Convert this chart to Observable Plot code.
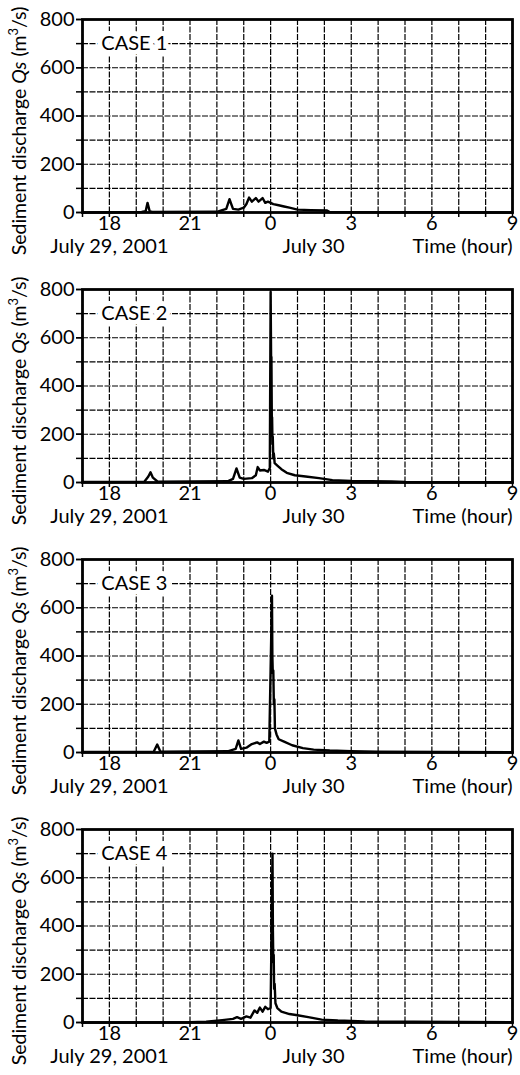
<!DOCTYPE html>
<html>
<head>
<meta charset="utf-8">
<script src="https://cdn.jsdelivr.net/npm/d3@7"></script>
<script src="https://cdn.jsdelivr.net/npm/@observablehq/plot@0.6"></script>
<style>
  html, body { margin: 0; padding: 0; background: #fff; }
  #chart svg { display: block; }
</style>
</head>
<body>
<div id="chart"></div>
<script>
// ---- data (hours since July 29 00:00; 24 = July 30, 0 h) ----
const hourGrid = d3.range(17, 34);
const labeledHours = [18, 21, 24, 27, 30, 33];
const qsLabeled = [0, 200, 400, 600, 800];
const qsGrid = d3.range(0, 801, 100);
const caseNames = ["CASE 1", "CASE 2", "CASE 3", "CASE 4"];
const dateLabels = ["July 29, 2001", "July 30"];
const dateHours = [18, 25.6];
const timeLabel = "Time (hour)";

const case1T = [17, 19.2, 19.35, 19.42, 19.5, 19.6, 22.0, 22.2, 22.35, 22.47, 22.6, 22.8, 23.0, 23.1, 23.2, 23.3, 23.45, 23.55, 23.7, 23.8, 23.9, 24.1, 24.3, 24.5, 24.7, 25.0, 25.5, 26.1, 26.2, 33];
const case1Q = [0, 2, 5, 40, 5, 2, 3, 10, 15, 55, 15, 12, 20, 35, 62, 45, 60, 45, 60, 40, 45, 35, 30, 25, 20, 12, 10, 8, 2, 0];

const case2T = [17, 19.3, 19.45, 19.53, 19.62, 19.8, 22.4, 22.6, 22.73, 22.85, 23.0, 23.3, 23.45, 23.52, 23.6, 23.75, 23.9, 23.97, 24.0, 24.02, 24.03, 24.045, 24.055, 24.07, 24.08, 24.1, 24.12, 24.15, 24.25, 24.4, 24.6, 24.9, 25.3, 25.8, 26.3, 27, 28.5, 29, 33];
const case2Q = [2, 3, 25, 42, 20, 3, 5, 15, 58, 20, 15, 18, 30, 64, 50, 52, 45, 60, 790, 480, 520, 250, 270, 160, 190, 100, 120, 80, 70, 55, 40, 30, 25, 18, 10, 6, 4, 2, 1];

const case3T = [17, 19.65, 19.78, 19.9, 22.4, 22.7, 22.8, 22.9, 23.1, 23.3, 23.5, 23.6, 23.75, 23.85, 23.95, 24.05, 24.065, 24.08, 24.1, 24.12, 24.14, 24.16, 24.22, 24.3, 24.5, 24.8, 25.2, 25.6, 26.2, 27, 28, 33];
const case3Q = [2, 3, 33, 3, 5, 15, 50, 15, 20, 35, 42, 35, 45, 40, 45, 650, 400, 330, 340, 200, 220, 100, 75, 55, 45, 30, 18, 12, 8, 5, 3, 1];

const case4T = [17, 21.0, 21.6, 22.2, 22.6, 22.75, 22.9, 23.1, 23.25, 23.4, 23.5, 23.6, 23.7, 23.8, 23.9, 24.0, 24.07, 24.085, 24.1, 24.115, 24.13, 24.15, 24.18, 24.25, 24.4, 24.7, 25.0, 25.4, 25.9, 26.5, 27.5, 33];
const case4Q = [0, 1, 3, 10, 15, 22, 15, 25, 20, 50, 40, 62, 45, 65, 55, 60, 700, 380, 250, 280, 140, 160, 80, 60, 45, 35, 30, 22, 12, 8, 4, 1];

const allT = [case1T, case2T, case3T, case4T];
const allQ = [case1Q, case2Q, case3Q, case4Q];

const FONT = "Lato, 'DejaVu Sans', sans-serif";
const gridStyle = {stroke: "#000", strokeOpacity: 1, strokeWidth: 1.2, strokeDasharray: "6,1.5"};

function panel(name, T, Q) {
  const data = T.map((t, i) => ({t, q: Q[i]}));
  const svg = Plot.plot({
    width: 520,
    height: 270,
    marginTop: 19,
    marginBottom: 58,
    marginLeft: 82,
    marginRight: 8,
    style: {fontFamily: FONT, fontSize: "20px", color: "#000", background: "#fff", overflow: "visible"},
    x: {domain: [17, 33], label: null},
    y: {domain: [0, 800], label: null},
    marks: [
      Plot.gridX(hourGrid, gridStyle),
      Plot.gridY(qsGrid, gridStyle),
      Plot.axisX(hourGrid, {tickSize: 5, tickFormat: () => "", label: null, strokeWidth: 1.5}),
      Plot.axisX(labeledHours, {tickSize: 0, tickPadding: 3, tickFormat: d => String(d % 24), fontSize: 20, label: null}),
      Plot.axisY(qsGrid, {tickSize: 6, tickFormat: () => "", label: null, strokeWidth: 1.5}),
      Plot.axisY(qsLabeled, {tickSize: 6, tickPadding: 2, fontSize: 20, label: null, strokeWidth: 1.5}),
      Plot.line(data, {x: "t", y: "q", stroke: "#000", strokeWidth: 2.4, strokeLinejoin: "round"}),
      Plot.frame({stroke: "#000", strokeWidth: 2.8}),
      Plot.text([name], {x: 17.7, y: 700, text: d => d, textAnchor: "start", fontSize: 20, fill: "#000",
        stroke: "#fff", strokeWidth: 10, paintOrder: "stroke"}),
      Plot.text(dateLabels, {x: (d, i) => dateHours[i], text: d => d, frameAnchor: "bottom", dy: 40, fontSize: 20, fill: "#000"}),
      Plot.text([timeLabel], {x: 33, text: d => d, frameAnchor: "bottom", dy: 40, textAnchor: "end", fontSize: 20, fill: "#000"})
    ]
  });
  const lab = d3.select(svg).append("text")
    .attr("transform", "translate(26,131) rotate(-90)")
    .attr("text-anchor", "middle")
    .attr("font-family", FONT)
    .attr("font-size", 19.5)
    .attr("fill", "#000");
  lab.append("tspan").text("Sediment discharge ");
  lab.append("tspan").attr("font-style", "italic").text("Qs");
  lab.append("tspan").text(" (m");
  lab.append("tspan").attr("font-size", 13).attr("dy", -8).text("3");
  lab.append("tspan").attr("dy", 8).text("/s)");
  return svg;
}

const root = document.getElementById("chart");
caseNames.forEach((name, i) => root.appendChild(panel(name, allT[i], allQ[i])));
</script>
</body>
</html>
